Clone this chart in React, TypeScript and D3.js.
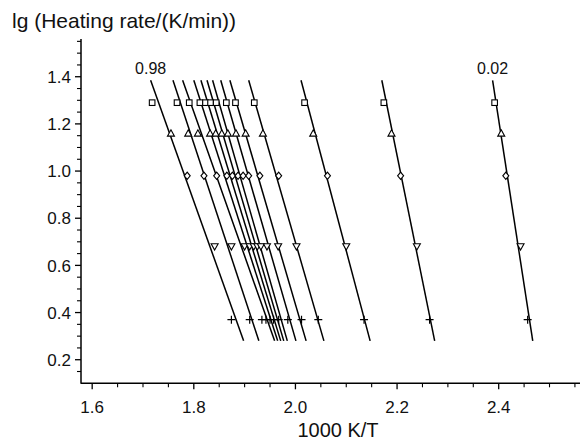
import React from "react";
import * as d3 from "d3";

// conversion levels (one line each), left to right
const conversions = ["0.98", "0.95", "0.9", "0.8", "0.7", "0.6", "0.5", "0.4", "0.3", "0.2", "0.1", "0.05", "0.02"];
// lg(heating rate) levels of the marker rows
const heatingLevels = [1.29, 1.16, 0.98, 0.68, 0.37];
const markerShapes = ["square", "triangleUp", "diamond", "triangleDown", "plus"];

// fitted line end points (1000 K/T) at lg = lineTopY and lg = lineBottomY
const lineTopY = 1.385;
const lineBottomY = 0.28;
const lineTopX = [1.715, 1.759, 1.778, 1.8, 1.814, 1.826, 1.837, 1.853, 1.871, 1.908, 2.011, 2.17, 2.388];
const lineBottomX = [1.898, 1.928, 1.959, 1.965, 1.971, 1.977, 1.984, 2.001, 2.021, 2.056, 2.147, 2.274, 2.467];

// measured points (1000 K/T) per heating rate row
const xRow1 = [1.718, 1.767, 1.791, 1.812, 1.823, 1.833, 1.844, 1.864, 1.882, 1.919, 2.018, 2.174, 2.392];
const xRow2 = [1.755, 1.789, 1.808, 1.832, 1.843, 1.855, 1.867, 1.883, 1.902, 1.936, 2.035, 2.189, 2.405];
const xRow3 = [1.787, 1.82, 1.845, 1.865, 1.876, 1.887, 1.897, 1.908, 1.93, 1.967, 2.063, 2.207, 2.414];
const xRow4 = [1.841, 1.874, 1.9, 1.91, 1.918, 1.925, 1.932, 1.944, 1.966, 2.002, 2.1, 2.239, 2.443];
const xRow5 = [1.874, 1.91, 1.934, 1.942, 1.95, 1.957, 1.967, 1.985, 2.012, 2.045, 2.135, 2.264, 2.457];
const rows = [xRow1, xRow2, xRow3, xRow4, xRow5];

const xMajorTicks = [1.6, 1.8, 2.0, 2.2, 2.4];
const yMajorTicks = [0.2, 0.4, 0.6, 0.8, 1.0, 1.2, 1.4];

const W = 580;
const H = 440;
const FONT = "'Liberation Sans', Arial, Helvetica, sans-serif";

function Marker({ shape, cx, cy }: { shape: string; cx: number; cy: number }) {
  const s = 2.8;
  const common = { fill: "white", stroke: "black", strokeWidth: 1.1 };
  if (shape === "square") {
    return <rect x={cx - s} y={cy - s} width={2 * s} height={2 * s} {...common} />;
  }
  if (shape === "triangleUp") {
    return <path d={`M${cx},${cy - 3.5}L${cx + 3.5},${cy + 2.8}L${cx - 3.5},${cy + 2.8}Z`} {...common} />;
  }
  if (shape === "triangleDown") {
    return <path d={`M${cx},${cy + 3.5}L${cx + 3.5},${cy - 2.8}L${cx - 3.5},${cy - 2.8}Z`} {...common} />;
  }
  if (shape === "diamond") {
    return <path d={`M${cx},${cy - 3.6}L${cx + 3},${cy}L${cx},${cy + 3.6}L${cx - 3},${cy}Z`} {...common} />;
  }
  return (
    <path d={`M${cx - 4},${cy}L${cx + 4},${cy}M${cx},${cy - 4}L${cx},${cy + 4}`} stroke="black" strokeWidth={1.2} fill="none" />
  );
}

export default function App() {
  const x = d3.scaleLinear().domain([1.578, 2.56]).range([81, 580]);
  const y = d3.scaleLinear().domain([0.1, 1.56]).range([383.3, 39]);
  const fmt = d3.format(".1f");

  const xMinor = d3.range(1.6, 2.56, 0.05).filter((v) => !xMajorTicks.some((m) => Math.abs(m - v) < 1e-6));
  const yMinor = d3.range(0.15, 1.56, 0.05).filter((v) => !yMajorTicks.some((m) => Math.abs(m - v) < 1e-6));

  const line = d3
    .line<[number, number]>()
    .x((d) => x(d[0]))
    .y((d) => y(d[1]));

  const x0 = x.range()[0];
  const y0 = y.range()[0];

  return (
    <svg width={W} height={H} style={{ position: "absolute", left: 0, top: 0, background: "white" }} fontFamily={FONT}>
      <rect width={W} height={H} fill="white" />
      {/* axes */}
      <line x1={x0} x2={x0} y1={y.range()[1]} y2={y0 + 0.5} stroke="black" strokeWidth={1.5} />
      <line x1={x0} x2={W} y1={y0} y2={y0} stroke="black" strokeWidth={1.5} />

      {xMajorTicks.map((t) => (
        <g key={"xt" + t}>
          <line x1={x(t)} x2={x(t)} y1={y0} y2={y0 + 6} stroke="black" strokeWidth={1.3} />
          <text x={x(t)} y={y0 + 30} textAnchor="middle" fontSize={17} fill="#111">
            {fmt(t)}
          </text>
        </g>
      ))}
      {xMinor.map((t) => (
        <line key={"xm" + t} x1={x(t)} x2={x(t)} y1={y0} y2={y0 + 4} stroke="black" strokeWidth={1.1} />
      ))}
      {yMajorTicks.map((t) => (
        <g key={"yt" + t}>
          <line x1={x0 - 6} x2={x0} y1={y(t)} y2={y(t)} stroke="black" strokeWidth={1.3} />
          <text x={x0 - 10} y={y(t)} dy="0.36em" textAnchor="end" fontSize={17} fill="#111">
            {fmt(t)}
          </text>
        </g>
      ))}
      {yMinor.map((t) => (
        <line key={"ym" + t} x1={x0 - 4} x2={x0} y1={y(t)} y2={y(t)} stroke="black" strokeWidth={1.1} />
      ))}

      <text x={12} y={28} fontSize={21} fill="#111">
        lg (Heating rate/(K/min))
      </text>
      <text x={338} y={437} textAnchor="middle" fontSize={20} fill="#111">
        1000 K/T
      </text>

      {/* fitted lines */}
      {conversions.map((c, i) => (
        <path
          key={"l" + c}
          d={line([
            [lineTopX[i], lineTopY],
            [lineBottomX[i], lineBottomY],
          ]) as string}
          stroke="black"
          strokeWidth={1.5}
          fill="none"
        />
      ))}

      {/* markers */}
      {rows.map((row, r) =>
        row.map((xv, i) => (
          <Marker key={`m${r}-${i}`} shape={markerShapes[r]} cx={x(xv)} cy={y(heatingLevels[r])} />
        ))
      )}

      {/* end labels */}
      {[0, conversions.length - 1].map((i) => (
        <text key={"lab" + i} x={x(lineTopX[i])} y={y(lineTopY) - 6} textAnchor="middle" fontSize={16} fill="#111">
          {conversions[i]}
        </text>
      ))}
    </svg>
  );
}
